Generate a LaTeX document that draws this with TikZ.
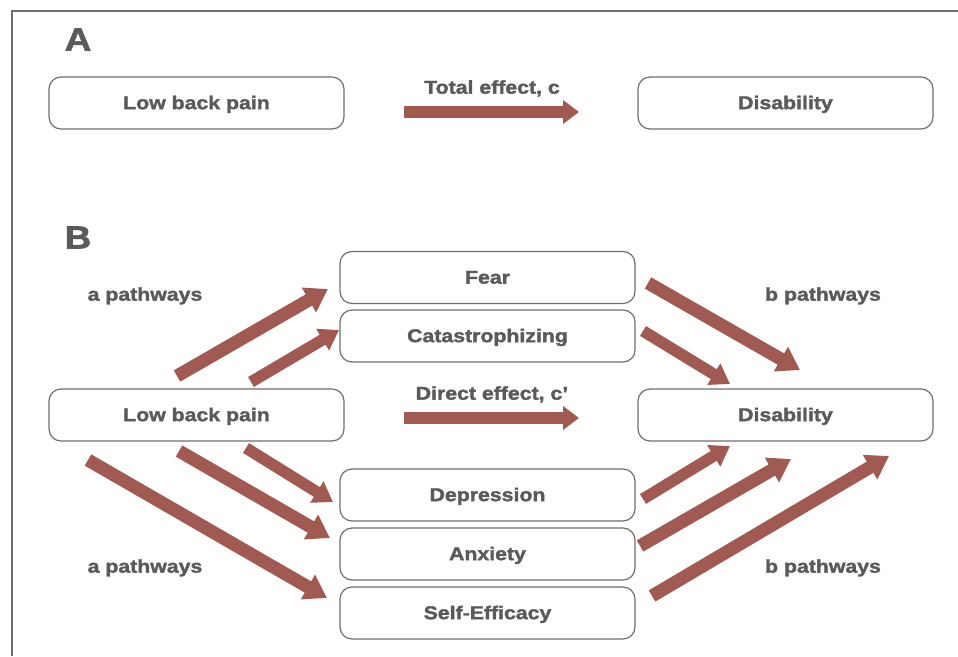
\documentclass[tikz,border=0pt]{standalone}
\usepackage{fontspec}
\setmainfont{Liberation Sans}[FakeStretch=1.15,FakeBold=1.8]
\usetikzlibrary{arrows.meta}
\definecolor{arr}{RGB}{160,90,82}
\definecolor{txt}{RGB}{90,90,90}
\definecolor{bord}{RGB}{110,110,110}
\begin{document}
\begin{tikzpicture}[x=1pt,y=-1pt,
 box/.style={draw=bord, line width=1.2pt, rounded corners=12pt, minimum width=295pt, minimum height=52pt, font=\fontsize{18.5}{20}\selectfont\bfseries, text=txt, inner sep=0pt, text height=13.3pt, text depth=1pt},
 lbl/.style={font=\fontsize{18.5}{20}\selectfont\bfseries, text=txt, inner sep=0pt, text height=13.3pt, text depth=0pt},
 big/.style={font=\fontsize{32}{34}\selectfont\bfseries, text=txt, inner sep=0pt, text height=23pt, text depth=0pt},
 fat/.style={draw=arr, line width=13pt, -{Triangle[width=27pt,length=22pt]}},
 slim/.style={draw=arr, line width=11.5pt, -{Triangle[width=24pt,length=19pt]}},
 horiz/.style={draw=arr, line width=12pt, -{Triangle[width=23pt,length=16pt]}}]
\useasboundingbox (0,0) rectangle (958,656);
\draw[bord, line width=1.5pt] (958,11) -- (12,11) -- (12,656);

% Panel A
\node[big] (lA) at (78,39) {A};
\node[box] (lbpA) at (196.5,103) {Low back pain};
\node[box] (disA) at (785.5,103) {Disability};
\node[lbl] (tot) at (492,87) {Total effect, c};
\coordinate (tA1) at (404,112);
\coordinate (tA2) at (579,112);
\draw[horiz] (tA1) -- (tA2);

% Panel B
\node[big] (lB) at (78,237) {B};
\node[box] (fear) at (487.5,277.5) {Fear};
\node[box] (cat) at (487.5,336) {Catastrophizing};
\node[box] (lbpB) at (196.5,415) {Low back pain};
\node[box] (disB) at (785.5,415) {Disability};
\node[box] (dep) at (487.5,495) {Depression};
\node[box] (anx) at (487.5,554) {Anxiety};
\node[box] (se) at (487.5,613) {Self-Efficacy};

\node[lbl] (ap1) at (145,294) {a pathways};
\node[lbl] (ap2) at (145,566) {a pathways};
\node[lbl] (bp1) at (823,294) {b pathways};
\node[lbl] (bp2) at (823,566) {b pathways};
\node[lbl] (dir) at (492,393) {Direct effect, c’};

\coordinate (tB1) at (404,418);
\coordinate (tB2) at (579,418);
\draw[horiz] (tB1) -- (tB2);

% a pathways (upper)
\coordinate (a1s) at (177,376); \coordinate (a1e) at (328,289);
\coordinate (a2s) at (251,382); \coordinate (a2e) at (339,330);
\draw[fat] (a1s) -- (a1e);
\draw[slim] (a2s) -- (a2e);

% b pathways (upper)
\coordinate (b1s) at (648,283); \coordinate (b1e) at (800,370);
\coordinate (b2s) at (643,331); \coordinate (b2e) at (730,384);
\draw[fat] (b1s) -- (b1e);
\draw[slim] (b2s) -- (b2e);

% a pathways (lower)
\coordinate (a3s) at (246,448); \coordinate (a3e) at (333,502);
\coordinate (a4s) at (179,451); \coordinate (a4e) at (330,538);
\coordinate (a5s) at (88,460);  \coordinate (a5e) at (327,598);
\draw[slim] (a3s) -- (a3e);
\draw[fat] (a4s) -- (a4e);
\draw[fat] (a5s) -- (a5e);

% b pathways (lower)
\coordinate (b3s) at (643,499); \coordinate (b3e) at (730,446);
\coordinate (b4s) at (640,546); \coordinate (b4e) at (791,459);
\coordinate (b5s) at (652,596); \coordinate (b5e) at (889,456);
\draw[slim] (b3s) -- (b3e);
\draw[fat] (b4s) -- (b4e);
\draw[fat] (b5s) -- (b5e);
\end{tikzpicture}
\end{document}
